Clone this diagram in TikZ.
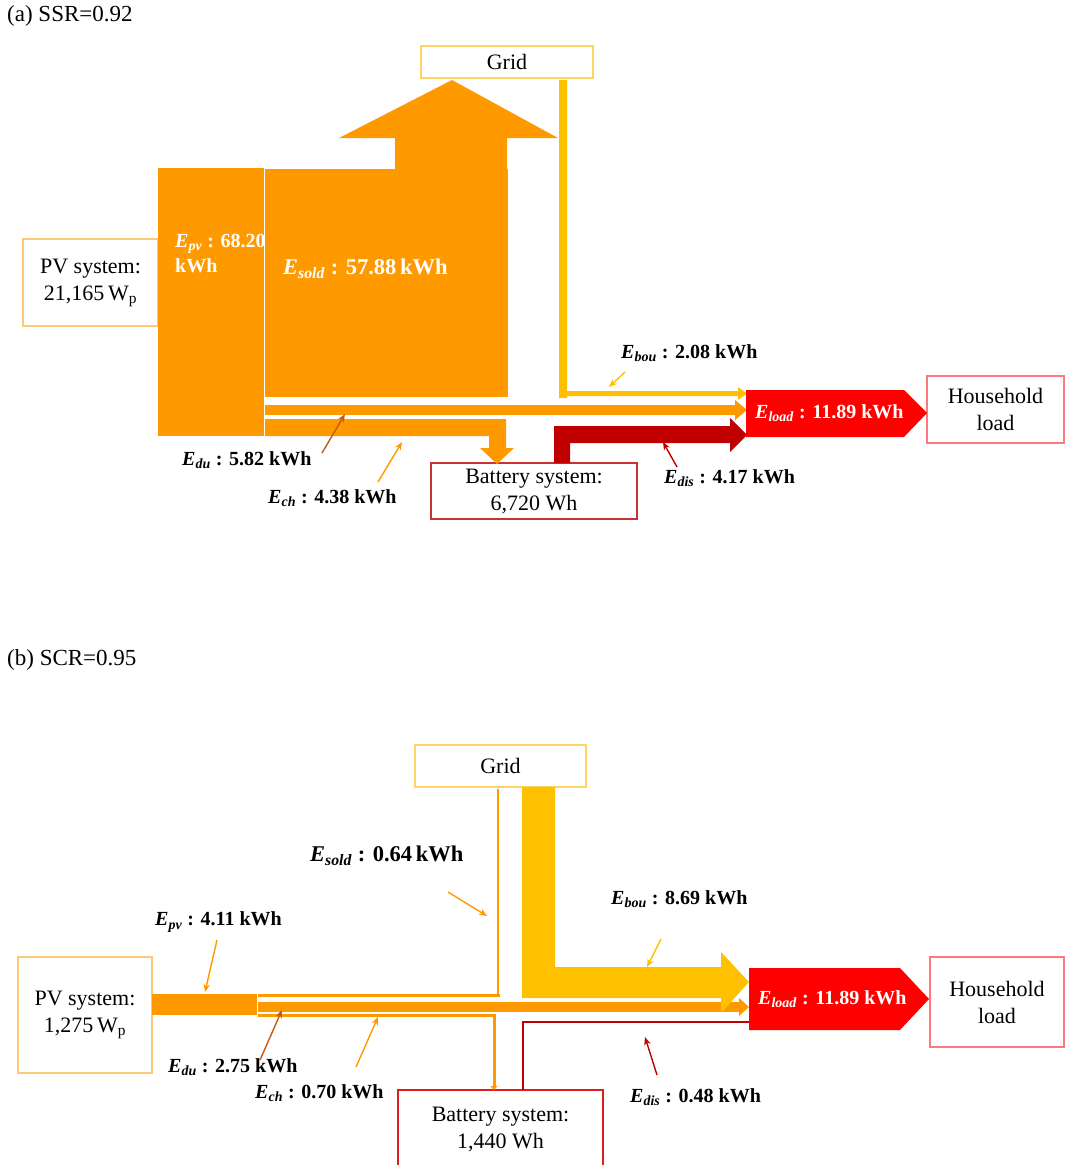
\documentclass[tikz,border=0pt]{standalone}
\usepackage{fontspec}
\setmainfont{Liberation Serif}
\usetikzlibrary{arrows.meta}
\definecolor{orng}{RGB}{255,153,0}
\definecolor{ylw}{RGB}{255,192,0}
\definecolor{dred}{RGB}{192,0,0}
\definecolor{brt}{RGB}{255,0,0}
\definecolor{brn}{RGB}{197,90,17}
\definecolor{pvb}{RGB}{255,200,120}
\definecolor{gridb}{RGB}{255,212,100}
\definecolor{hhb}{RGB}{255,120,125}
\definecolor{batb}{RGB}{200,50,50}
\definecolor{batb2}{RGB}{225,30,30}
\newcommand\EE[1]{\textbf{\textit{E}\textsubscript{\textit{#1}}}}
\tikzset{
  boxnode/.style={draw, line width=1.2pt, fill=white, align=center, inner sep=0pt,
    font=\fontsize{22}{27}\selectfont},
  lbl/.style={inner sep=0pt, anchor=west, font=\fontsize{20}{25}\selectfont\bfseries},
  biglbl/.style={inner sep=0pt, anchor=west, font=\fontsize{22.5}{28}\selectfont\bfseries},
  ttl/.style={inner sep=0pt, anchor=west, font=\fontsize{23}{27}\selectfont},
  ptr/.style={line width=1.4pt, -{Stealth[length=8pt,width=6.5pt]}},
}
\begin{document}
\begin{tikzpicture}[x=1pt,y=-1pt]
\useasboundingbox (0,0) rectangle (1065,1165);

%% ================= (a) =================
\node[ttl] (ta) at (7,16) {(a) SSR=0.92};

% boxes
\node[boxnode, draw=gridb, minimum width=172pt, minimum height=32pt] (grida) at (507,62) {Grid};
\node[boxnode, draw=pvb, minimum width=135pt, minimum height=87pt] (pva) at (90.5,282.5) {PV system:\\21,165\,W\textsubscript{p}};
\node[boxnode, draw=batb, minimum width=206pt, minimum height=56pt] (bata) at (534,491) {Battery system:\\6,720 Wh};
\node[boxnode, draw=hhb, minimum width=137pt, minimum height=67pt] (hha) at (995.5,409.5) {Household\\load};

% flows
\fill[orng] (158,168) rectangle (264,436);
\fill[orng] (265,169) rectangle (508,397);
\fill[orng] (395,170) -- (395,138) -- (339,138) -- (452,80) -- (558,138) -- (507,138) -- (507,170) -- cycle;
% Edu
\fill[orng] (265,405) rectangle (736,415);
\fill[orng] (735,400) -- (747,410) -- (735,420) -- cycle;
% Ech
\fill[orng] (265,419) -- (506,419) -- (506,448) -- (514,448) -- (497,464) -- (480,448) -- (489,448) -- (489,436) -- (265,436) -- cycle;
% Ebou
\fill[ylw] (559,80) -- (567,80) -- (567,391) -- (738,391) -- (738,387) -- (747,393.5) -- (738,400) -- (738,396) -- (567,396) -- (567,398) -- (559,398) -- cycle;
% Edis
\fill[dred] (554,463) -- (554,426) -- (730,426) -- (730,418) -- (747,435) -- (730,452) -- (730,443) -- (570,443) -- (570,463) -- cycle;
% Eload
\fill[brt] (746,390) -- (904,390) -- (927,413) -- (904,437) -- (746,437) -- cycle;

% labels
\node[lbl, anchor=north west, align=left, text=white] (epva) at (175,234) {\EE{pv} : 68.20\\kWh};
\node[biglbl, text=white] (esolda) at (283,269) {\EE{sold} : 57.88\,kWh};
\node[lbl, text=white] (eloada) at (755,413) {\EE{load} : 11.89 kWh};
\node[lbl] (eboua) at (621,353) {\EE{bou} : 2.08 kWh};
\node[lbl] (edua) at (182,460) {\EE{du} : 5.82 kWh};
\node[lbl] (echa) at (268,498) {\EE{ch} : 4.38 kWh};
\node[lbl] (edisa) at (664,478) {\EE{dis} : 4.17 kWh};

% pointers
\coordinate (pa1s) at (625,372); \coordinate (pa1e) at (609,387);
\coordinate (pa2s) at (322,453); \coordinate (pa2e) at (345,414);
\coordinate (pa3s) at (378,482); \coordinate (pa3e) at (402,442);
\coordinate (pa4s) at (677,467); \coordinate (pa4e) at (663,442);
\draw[ptr, ylw] (pa1s) -- (pa1e);
\draw[ptr, brn] (pa2s) -- (pa2e);
\draw[ptr, orng] (pa3s) -- (pa3e);
\draw[ptr, dred] (pa4s) -- (pa4e);

%% ================= (b) =================
\node[ttl] (tb) at (7,660) {(b) SCR=0.95};

% boxes
\node[boxnode, draw=gridb, minimum width=171pt, minimum height=42pt] (gridb) at (500.5,766) {Grid};
\node[boxnode, draw=pvb, minimum width=134pt, minimum height=116pt] (pvb) at (85,1015) {PV system:\\1,275\,W\textsubscript{p}};
\node[boxnode, draw=batb2, minimum width=205pt, minimum height=78pt] (batb) at (500.5,1129) {Battery system:\\1,440 Wh};
\node[boxnode, draw=hhb, minimum width=134pt, minimum height=90pt] (hhb) at (997,1002) {Household\\load};

% Epv strip
\fill[orng] (152,994) rectangle (257,1015);
% Esold thin
\draw[orng, line width=2.5pt] (258,995.5) -- (500,995.5);
\draw[orng, line width=2pt] (498,996) -- (498,789);
% Edu
\fill[orng] (258,1002) rectangle (740,1012);
\fill[orng] (739,998) -- (749,1007) -- (739,1016) -- cycle;
% Ech thin
\draw[orng, line width=3pt, -{Triangle[length=4pt,width=7pt]}] (258,1015) -- (494,1015) -- (494,1090);
% Edis thin
\draw[dred, line width=2.5pt] (523,1090) -- (523,1022) -- (749,1022);
% Ebou big
\fill[ylw] (522,787) -- (555,787) -- (555,967) -- (721,967) -- (721,952) -- (749,982) -- (721,1013) -- (721,998) -- (522,998) -- cycle;
% Eload
\fill[brt] (749,968) -- (900,968) -- (929,999) -- (900,1030) -- (749,1030) -- cycle;

% labels
\node[lbl, text=white] (eloadb) at (758,999) {\EE{load} : 11.89 kWh};
\node[biglbl] (esoldb) at (310,856) {\EE{sold} : 0.64\,kWh};
\node[lbl] (eboub) at (611,899) {\EE{bou} : 8.69 kWh};
\node[lbl] (epvb) at (155,922) {\EE{pv} : 4.11 kWh};
\node[lbl] (edub) at (168,1067) {\EE{du} : 2.75 kWh};
\node[lbl] (echb) at (255,1093) {\EE{ch} : 0.70 kWh};
\node[lbl] (edisb) at (630,1097) {\EE{dis} : 0.48 kWh};

% pointers
\coordinate (pb1s) at (448,892); \coordinate (pb1e) at (487,916);
\coordinate (pb2s) at (661,939); \coordinate (pb2e) at (647,967);
\coordinate (pb3s) at (217,940); \coordinate (pb3e) at (205,992);
\coordinate (pb4s) at (260,1060); \coordinate (pb4e) at (282,1010);
\coordinate (pb5s) at (356,1067); \coordinate (pb5e) at (378,1017);
\coordinate (pb6s) at (657,1075); \coordinate (pb6e) at (645,1037);
\draw[ptr, orng] (pb1s) -- (pb1e);
\draw[ptr, ylw] (pb2s) -- (pb2e);
\draw[ptr, orng] (pb3s) -- (pb3e);
\draw[ptr, brn] (pb4s) -- (pb4e);
\draw[ptr, orng] (pb5s) -- (pb5e);
\draw[ptr, dred] (pb6s) -- (pb6e);
\end{tikzpicture}
\end{document}
